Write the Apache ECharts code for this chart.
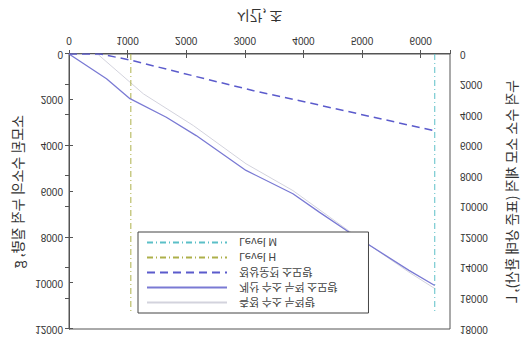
<!DOCTYPE html>
<html>
<head>
<meta charset="utf-8">
<script src="https://cdn.jsdelivr.net/npm/echarts@6/dist/echarts.min.js"></script>
<style>
html,body{margin:0;padding:0;background:#fff;}
#chart{width:526px;height:340px;transform:scaleY(-1);transform-origin:50% 50%;}
</style>
</head>
<body>
<div id="chart"></div>
<script>
// Axis titles and legend names
const xTitle = '시간, 초';
const leftTitle = '소모된 수소의 누적 질량, g';
const rightTitle = '누적 수소 소모 체적 (표준 상태 환산), L';
const seriesNames = ['측정 수소 누적량', '계산 수소 누적 소모량', '정상운전 소모량', 'Level H', 'Level M'];

// Tick values
const xTicks = [0, 1000, 2000, 3000, 4000, 5000, 6000];
const leftTicks = [0, 2000, 4000, 6000, 8000, 10000, 12000];
const rightTicks = [0, 2000, 4000, 6000, 8000, 10000, 12000, 14000, 16000, 18000];

// Light gray measured line
const lightTime = [0, 500, 1270, 2120, 3020, 3820, 4780, 5800, 6250];
const lightVals = [0, 30, 1740, 3120, 4790, 5960, 7730, 9520, 10250];

// Solid purple line
const solidTime = [0, 640, 1040, 1660, 2170, 3020, 3820, 4270, 4780, 5800, 6240];
const solidVals = [0, 1080, 1950, 2760, 3560, 5080, 6100, 6900, 7780, 9440, 10100];

// Dashed purple line
const dashTime = [0, 530, 1040, 2350, 3150, 4060, 4970, 6250];
const dashVals = [0, 0, 260, 1100, 1600, 2110, 2630, 3360];

// Vertical level markers
const levelHTime = [1055, 1055];
const levelMTime = [6240, 6240];
const levelVals = [0, 11300];

const pairs = (t, v) => t.map((x, i) => [x, v[i]]);

const chart = echarts.init(document.getElementById('chart'), null, {renderer: 'svg'});
const axisCol = '#555';
const labCol = '#333';
const numFont = {fontFamily: 'Liberation Sans, Arial, sans-serif', fontSize: 10, color: labCol};
const krFont = '"Noto Sans CJK KR", sans-serif';
const plain = v => String(v);

chart.setOption({
  animation: false,
  backgroundColor: '#fff',
  grid: {left: 69, right: 75, top: 11, bottom: 54, show: true, borderColor: axisCol, borderWidth: 1, backgroundColor: 'transparent'},
  legend: {
    orient: 'vertical', left: 138, top: 27,
    data: seriesNames,
    backgroundColor: '#fff', borderColor: '#444', borderWidth: 1,
    padding: [4, 31, 4, 8], itemGap: 2, itemWidth: 80, itemHeight: 10,
    itemStyle: {opacity: 0},
    textStyle: {fontFamily: krFont, fontSize: 11, color: '#444', lineHeight: 13, padding: [0, 0, 0, 7]}
  },
  xAxis: [{
    type: 'value', min: xTicks[0], max: 6500, interval: 1000,
    name: xTitle, nameLocation: 'middle', nameGap: 30,
    nameTextStyle: {fontFamily: krFont, fontSize: 14, color: labCol},
    axisLine: {show: true, lineStyle: {color: axisCol}},
    axisTick: {show: true, inside: true, length: 4, lineStyle: {color: axisCol}},
    axisLabel: Object.assign({margin: 9, showMaxLabel: false, formatter: v => xTicks.includes(v) ? String(v) : ''}, numFont),
    splitLine: {show: false}
  }, {
    type: 'value', position: 'top', min: 0, max: 6500, interval: 1000,
    axisLine: {show: false}, axisLabel: {show: false},
    axisTick: {show: true, inside: true, length: 4, lineStyle: {color: axisCol}},
    splitLine: {show: false}
  }],
  yAxis: [{
    type: 'value', min: leftTicks[0], max: leftTicks[leftTicks.length - 1], interval: 2000,
    name: leftTitle, nameLocation: 'middle', nameGap: 45, nameRotate: 90,
    nameTextStyle: {fontFamily: krFont, fontSize: 14, color: labCol},
    axisLine: {show: true, lineStyle: {color: axisCol}},
    axisTick: {show: true, inside: true, length: 4, lineStyle: {color: axisCol}},
    axisLabel: Object.assign({margin: 6, formatter: plain}, numFont),
    splitLine: {show: false}
  }, {
    type: 'value', position: 'right', min: rightTicks[0], max: rightTicks[rightTicks.length - 1], interval: 2000,
    name: rightTitle, nameLocation: 'middle', nameGap: 54, nameRotate: 90,
    nameTextStyle: {fontFamily: krFont, fontSize: 14, color: labCol},
    axisLine: {show: true, lineStyle: {color: axisCol}},
    axisTick: {show: true, inside: true, length: 4, lineStyle: {color: axisCol}},
    axisLabel: Object.assign({margin: 10, formatter: plain}, numFont),
    splitLine: {show: false}
  }],
  series: [
    {name: seriesNames[0], type: 'line', data: pairs(lightTime, lightVals), symbol: 'none',
     lineStyle: {color: '#d3d3dd', width: 1}, itemStyle: {color: '#d3d3dd'}, z: 2},
    {name: seriesNames[1], type: 'line', data: pairs(solidTime, solidVals), symbol: 'none',
     lineStyle: {color: '#7a7ad4', width: 1.3}, itemStyle: {color: '#7a7ad4'}, z: 3},
    {name: seriesNames[2], type: 'line', data: pairs(dashTime, dashVals), symbol: 'none',
     lineStyle: {color: '#5b5bcc', width: 1.5, type: [8, 5]}, itemStyle: {color: '#5b5bcc'}, z: 3},
    {name: seriesNames[3], type: 'line', data: pairs(levelHTime, levelVals), symbol: 'none',
     lineStyle: {color: '#adb04a', width: 1, type: [6, 3, 1, 3]}, itemStyle: {color: '#adb04a'}, z: 2},
    {name: seriesNames[4], type: 'line', data: pairs(levelMTime, levelVals), symbol: 'none',
     lineStyle: {color: '#5bbfc7', width: 1, type: [6, 3, 1, 3]}, itemStyle: {color: '#5bbfc7'}, z: 2}
  ]
});
</script>
</body>
</html>
